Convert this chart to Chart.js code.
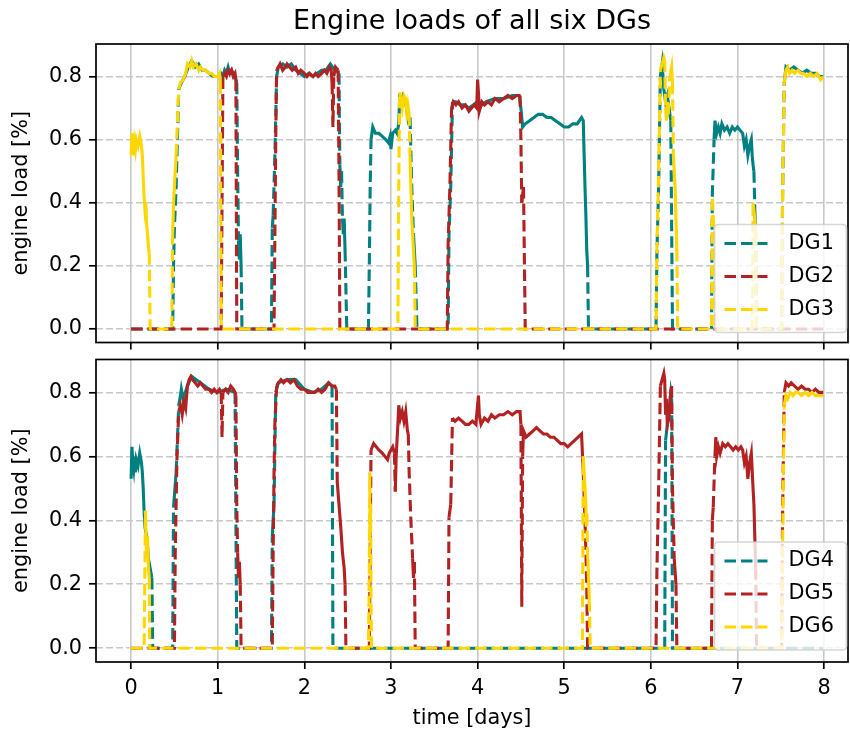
<!DOCTYPE html>
<html>
<head>
<meta charset="utf-8">
<script src="https://cdn.jsdelivr.net/npm/chart.js@4.4.1/dist/chart.umd.min.js"></script>
<style>
  html, body { margin: 0; padding: 0; background: #fff; }
  #wrap { position: relative; width: 850px; height: 738px; }
  canvas { position: absolute; left: 0; }
  #top { top: 0; }
  #bottom { top: 340px; }
</style>
</head>
<body>
<div id="wrap">
  <canvas id="top" width="850" height="362"></canvas>
  <canvas id="bottom" width="850" height="398"></canvas>
</div>
<script>
// axis ticks
const xTickValues = [0, 1, 2, 3, 4, 5, 6, 7, 8];
const yTickValues = [0, 0.2, 0.4, 0.6, 0.8];
const yTickLabels = ["0.0", "0.2", "0.4", "0.6", "0.8"];

// [time in days, engine load]
const dg1 = [[0,0],[0.48,0],[0.49,0.20],[0.50,0.32],[0.52,0.45],[0.55,0.76],[0.58,0.78],[0.62,0.80],[0.66,0.83],[0.70,0.85],[0.74,0.83],[0.78,0.84],[0.82,0.82],[0.86,0.82],[0.90,0.81],[0.95,0.80],[1.00,0.80],[1.04,0.81],[1.06,0.80],[1.08,0.82],[1.10,0.81],[1.12,0.83],[1.14,0.81],[1.16,0.82],[1.18,0.81],[1.20,0.80],[1.22,0.78],[1.23,0.50],[1.24,0.28],[1.25,0.22],[1.26,0.30],[1.27,0.20],[1.28,0],
  [1.62,0],[1.63,0.32],[1.64,0.36],[1.66,0.55],[1.68,0.80],[1.70,0.83],[1.75,0.84],[1.80,0.83],[1.85,0.84],[1.90,0.82],[1.95,0.81],[2.00,0.80],[2.05,0.81],[2.10,0.80],[2.15,0.81],[2.20,0.82],[2.25,0.82],[2.30,0.84],[2.35,0.82],[2.40,0.81],[2.41,0.52],[2.42,0.45],[2.43,0.50],[2.44,0.35],[2.45,0.30],[2.46,0.35],[2.47,0.25],[2.49,0],
  [2.74,0],[2.75,0.20],[2.76,0.45],[2.77,0.60],[2.79,0.64],[2.82,0.62],[2.86,0.62],[2.90,0.61],[2.94,0.60],[2.97,0.59],[2.99,0.61],[3.00,0.57],[3.02,0.62],[3.05,0.63],[3.07,0.62],[3.09,0.65],[3.10,0.73],[3.12,0.72],[3.14,0.74],[3.16,0.73],[3.18,0.70],[3.20,0.66],[3.22,0.67],[3.24,0.45],[3.26,0.30],[3.28,0.20],[3.30,0],
  [3.66,0],[3.67,0.30],[3.69,0.45],[3.71,0.72],[3.75,0.72],[3.80,0.71],[3.85,0.71],[3.90,0.70],[3.95,0.71],[4.00,0.72],[4.05,0.71],[4.10,0.72],[4.20,0.73],[4.30,0.73],[4.40,0.74],[4.48,0.74],[4.50,0.70],[4.52,0.64],[4.55,0.65],[4.60,0.66],[4.65,0.67],[4.70,0.68],[4.75,0.68],[4.80,0.67],[4.85,0.67],[4.90,0.66],[4.95,0.65],[5.00,0.64],[5.05,0.64],[5.10,0.65],[5.15,0.65],[5.20,0.67],[5.22,0.66],[5.23,0.55],[5.24,0.45],[5.25,0.36],[5.26,0.25],[5.27,0.20],[5.28,0],
  [6.06,0],[6.07,0.24],[6.09,0.45],[6.11,0.80],[6.13,0.84],[6.15,0.76],[6.17,0.72],[6.19,0.74],[6.21,0.70],[6.23,0.66],[6.25,0],
  [6.70,0],[6.71,0.43],[6.73,0.60],[6.74,0.66],[6.76,0.62],[6.78,0.64],[6.80,0.62],[6.82,0.65],[6.85,0.63],[6.88,0.64],[6.91,0.62],[6.94,0.64],[6.97,0.63],[7.00,0.64],[7.03,0.63],[7.06,0.62],[7.08,0.58],[7.10,0.60],[7.12,0.55],[7.14,0.58],[7.16,0.60],[7.17,0.55],[7.18,0.52],[7.19,0.50],[7.20,0.38],[7.21,0.30],[7.22,0],
  [7.51,0],[7.52,0.40],[7.54,0.78],[7.56,0.83],[7.60,0.82],[7.65,0.83],[7.70,0.82],[7.75,0.81],[7.80,0.82],[7.85,0.81],[7.90,0.81],[7.95,0.80],[7.99,0.80]];

const dg2 = [[0,0],[1.04,0],[1.05,0.40],[1.06,0.80],[1.08,0.81],[1.10,0.80],[1.12,0.82],[1.14,0.81],[1.16,0.82],[1.18,0.80],[1.20,0.81],[1.21,0.79],[1.22,0],
  [1.65,0],[1.66,0.30],[1.67,0.60],[1.68,0.82],[1.70,0.83],[1.72,0.84],[1.75,0.82],[1.78,0.83],[1.80,0.84],[1.83,0.83],[1.86,0.82],[1.90,0.83],[1.93,0.81],[1.96,0.82],[2.00,0.81],[2.03,0.80],[2.06,0.81],[2.10,0.80],[2.13,0.81],[2.16,0.80],[2.20,0.81],[2.23,0.82],[2.26,0.81],[2.29,0.83],[2.31,0.82],[2.32,0.78],[2.33,0.64],[2.34,0.80],[2.36,0.83],[2.39,0.82],[2.40,0.50],[2.41,0],
  [3.65,0],[3.66,0.27],[3.68,0.45],[3.70,0.70],[3.72,0.72],[3.75,0.71],[3.78,0.72],[3.82,0.70],[3.86,0.71],[3.90,0.69],[3.93,0.70],[3.96,0.71],[3.99,0.70],[4.00,0.79],[4.01,0.75],[4.02,0.69],[4.05,0.72],[4.08,0.71],[4.12,0.72],[4.16,0.71],[4.20,0.73],[4.25,0.72],[4.30,0.73],[4.35,0.74],[4.40,0.73],[4.45,0.74],[4.49,0.74],[4.50,0.60],[4.51,0.40],[4.53,0.45],[4.55,0],
  [7.99,0]];

const dg3 = [[0,0.55],[0.01,0.62],[0.02,0.58],[0.03,0.55],[0.04,0.59],[0.05,0.57],[0.06,0.60],[0.08,0.58],[0.10,0.61],[0.12,0.58],[0.13,0.55],[0.14,0.48],[0.15,0.42],[0.16,0.38],[0.17,0.40],[0.18,0.33],[0.19,0.30],[0.20,0.26],[0.21,0.24],[0.22,0],
  [0.47,0],[0.48,0.30],[0.49,0.40],[0.50,0.45],[0.52,0.55],[0.55,0.76],[0.57,0.78],[0.60,0.79],[0.63,0.81],[0.65,0.84],[0.68,0.83],[0.70,0.85],[0.72,0.83],[0.75,0.84],[0.78,0.82],[0.80,0.83],[0.83,0.82],[0.86,0.82],[0.90,0.81],[0.93,0.81],[0.96,0.80],[1.00,0.80],[1.02,0.81],[1.03,0.78],[1.04,0],
  [3.08,0],[3.09,0.45],[3.10,0.75],[3.12,0.72],[3.13,0.70],[3.15,0.74],[3.17,0.73],[3.19,0.66],[3.20,0.70],[3.21,0.68],[3.22,0.55],[3.23,0.45],[3.24,0.35],[3.25,0.30],[3.26,0.25],[3.27,0.20],[3.28,0],
  [6.06,0],[6.07,0.25],[6.09,0.50],[6.11,0.82],[6.13,0.84],[6.15,0.86],[6.16,0.85],[6.17,0.70],[6.18,0.66],[6.19,0.72],[6.20,0.68],[6.22,0.80],[6.24,0.83],[6.25,0.78],[6.26,0.55],[6.28,0.45],[6.29,0.35],[6.30,0.25],[6.31,0],
  [6.70,0],[6.71,0.42],[6.73,0.30],[6.74,0],
  [7.17,0],[7.18,0.40],[7.20,0.35],[7.21,0.30],[7.22,0],
  [7.51,0],[7.52,0.40],[7.54,0.78],[7.56,0.82],[7.58,0.83],[7.60,0.81],[7.63,0.82],[7.66,0.81],[7.70,0.82],[7.73,0.81],[7.76,0.81],[7.80,0.80],[7.84,0.81],[7.88,0.80],[7.92,0.81],[7.96,0.79],[7.99,0.80]];

const dg4 = [[0,0.53],[0.01,0.63],[0.02,0.58],[0.03,0.56],[0.04,0.60],[0.05,0.55],[0.06,0.59],[0.08,0.57],[0.10,0.61],[0.12,0.58],[0.13,0.55],[0.14,0.50],[0.15,0.43],[0.16,0.38],[0.18,0.35],[0.20,0.28],[0.22,0.25],[0.24,0.22],[0.25,0],
  [0.48,0],[0.49,0.44],[0.52,0.55],[0.55,0.76],[0.57,0.79],[0.58,0.81],[0.60,0.78],[0.65,0.82],[0.70,0.85],[0.80,0.83],[0.90,0.81],[1.00,0.80],[1.10,0.81],[1.20,0.80],[1.22,0],
  [1.62,0],[1.63,0.35],[1.65,0.45],[1.67,0.80],[1.70,0.83],[1.80,0.84],[1.90,0.84],[2.00,0.81],[2.10,0.80],[2.20,0.81],[2.28,0.83],[2.32,0.82],[2.33,0],
  [6.16,0],[6.17,0.65],[6.20,0.72],[6.23,0.80],[6.24,0.78],[6.25,0],
  [7.99,0]];

const dg5 = [[0,0],[0.50,0],[0.51,0.30],[0.53,0.60],[0.55,0.74],[0.57,0.76],[0.59,0.73],[0.61,0.77],[0.63,0.75],[0.65,0.82],[0.67,0.84],[0.69,0.85],[0.71,0.84],[0.74,0.83],[0.77,0.82],[0.80,0.83],[0.83,0.82],[0.86,0.81],[0.90,0.81],[0.93,0.80],[0.96,0.81],[0.99,0.80],[1.02,0.81],[1.04,0.80],[1.05,0.66],[1.06,0.80],[1.09,0.81],[1.12,0.80],[1.15,0.82],[1.18,0.81],[1.20,0.80],[1.21,0.79],[1.22,0.45],[1.23,0.30],[1.24,0.22],[1.25,0.27],[1.26,0.20],[1.27,0],
  [1.63,0],[1.64,0.30],[1.65,0.55],[1.66,0.70],[1.68,0.82],[1.70,0.83],[1.73,0.84],[1.76,0.83],[1.80,0.84],[1.84,0.83],[1.88,0.84],[1.92,0.82],[1.96,0.81],[2.00,0.81],[2.04,0.80],[2.08,0.80],[2.12,0.80],[2.16,0.81],[2.20,0.80],[2.24,0.81],[2.28,0.83],[2.32,0.82],[2.35,0.82],[2.37,0.81],[2.38,0.52],[2.40,0.45],[2.42,0.38],[2.44,0.30],[2.46,0.25],[2.47,0.20],[2.48,0],
  [2.75,0],[2.76,0.30],[2.77,0.62],[2.80,0.64],[2.83,0.63],[2.86,0.62],[2.90,0.61],[2.93,0.60],[2.96,0.59],[2.98,0.61],[3.00,0.62],[3.02,0.63],[3.04,0.61],[3.05,0.49],[3.06,0.60],[3.08,0.70],[3.09,0.76],[3.11,0.72],[3.13,0.74],[3.15,0.71],[3.17,0.74],[3.19,0.68],[3.20,0.67],[3.21,0.55],[3.23,0.40],[3.25,0.28],[3.26,0.22],[3.27,0.27],[3.28,0],
  [3.66,0],[3.67,0.41],[3.69,0.45],[3.71,0.72],[3.74,0.71],[3.78,0.72],[3.82,0.71],[3.86,0.70],[3.90,0.70],[3.94,0.71],[3.98,0.70],[4.01,0.79],[4.02,0.73],[4.04,0.70],[4.08,0.72],[4.12,0.71],[4.16,0.73],[4.20,0.72],[4.25,0.73],[4.30,0.73],[4.35,0.74],[4.40,0.73],[4.45,0.74],[4.49,0.74],[4.50,0.70],[4.51,0.13],[4.52,0.60],[4.53,0.68],[4.56,0.66],[4.60,0.67],[4.64,0.68],[4.68,0.69],[4.72,0.68],[4.76,0.67],[4.80,0.67],[4.84,0.66],[4.88,0.66],[4.92,0.65],[4.96,0.64],[5.00,0.64],[5.04,0.63],[5.08,0.64],[5.12,0.65],[5.16,0.66],[5.20,0.67],[5.21,0.61],[5.22,0.55],[5.24,0.40],[5.26,0.20],[5.27,0],
  [6.06,0],[6.07,0.24],[6.09,0.50],[6.11,0.82],[6.13,0.84],[6.15,0.86],[6.16,0.84],[6.17,0.73],[6.18,0.78],[6.19,0.70],[6.21,0.72],[6.23,0.80],[6.24,0.82],[6.25,0.50],[6.27,0.28],[6.29,0.20],[6.30,0],
  [6.70,0],[6.71,0.40],[6.72,0.44],[6.74,0.60],[6.75,0.66],[6.76,0.60],[6.78,0.63],[6.80,0.61],[6.83,0.64],[6.86,0.63],[6.89,0.64],[6.92,0.63],[6.95,0.62],[6.98,0.63],[7.01,0.62],[7.04,0.63],[7.06,0.62],[7.08,0.58],[7.10,0.60],[7.12,0.53],[7.14,0.58],[7.16,0.61],[7.18,0.50],[7.19,0.45],[7.20,0.35],[7.21,0.25],[7.22,0],
  [7.51,0],[7.52,0.40],[7.54,0.80],[7.56,0.83],[7.59,0.82],[7.62,0.83],[7.66,0.82],[7.70,0.81],[7.74,0.82],[7.78,0.81],[7.82,0.81],[7.86,0.80],[7.90,0.81],[7.94,0.80],[7.99,0.80]];

const dg6 = [[0,0],[0.15,0],[0.16,0.25],[0.165,0.43],[0.17,0.38],[0.18,0.30],[0.19,0.35],[0.20,0.25],[0.21,0.22],[0.215,0],
  [2.74,0],[2.75,0.25],[2.755,0.55],[2.76,0.35],[2.765,0.45],[2.77,0.15],[2.775,0],
  [5.21,0],[5.22,0.60],[5.23,0.55],[5.24,0.50],[5.25,0.45],[5.255,0.38],[5.26,0.42],[5.27,0.30],[5.28,0.22],[5.29,0.15],[5.30,0],
  [7.51,0],[7.52,0.30],[7.54,0.76],[7.56,0.79],[7.58,0.78],[7.61,0.80],[7.64,0.79],[7.67,0.80],[7.70,0.80],[7.74,0.79],[7.78,0.80],[7.82,0.79],[7.86,0.80],[7.90,0.79],[7.95,0.79],[7.99,0.79]];

const topNames = ["DG1", "DG2", "DG3"];
const bottomNames = ["DG4", "DG5", "DG6"];
const colors = ["#008080", "#b22222", "#ffd700"];

const FONT = "DejaVu Sans";
const lineDash = [11.5, 5];

// noisy plateaus look solid in the original, jumps and zero stretches dashed
const dashRule = (ctx) => {
  const a = ctx.p0.parsed.y, b = ctx.p1.parsed.y;
  return (a > 0.05 && b > 0.05 && Math.abs(a - b) < 0.12) ? [] : undefined;
};

const frame = {
  id: "frame",
  afterDatasetsDraw(chart) {
    const { ctx, chartArea: a } = chart;
    ctx.save();
    ctx.setLineDash([]);
    ctx.strokeStyle = "#000";
    ctx.lineWidth = 1.7;
    ctx.strokeRect(a.left, a.top, a.right - a.left, a.bottom - a.top);
    ctx.restore();
  },
};

const boxLegend = {
  id: "boxLegend",
  afterDraw(chart, args, opts) {
    const { ctx, chartArea: a } = chart;
    const w = 132, h = 108;
    const x = a.right - 1.5 - w;
    const y = a.bottom - opts.gap - h;
    ctx.save();
    ctx.beginPath();
    ctx.roundRect(x, y, w, h, 4);
    ctx.fillStyle = "rgba(255,255,255,0.8)";
    ctx.fill();
    ctx.strokeStyle = "rgba(204,204,204,0.8)";
    ctx.lineWidth = 1.7;
    ctx.stroke();
    chart.data.datasets.forEach((ds, i) => {
      const cy = y + 19 + i * 33;
      ctx.beginPath();
      ctx.setLineDash(lineDash);
      ctx.strokeStyle = ds.borderColor;
      ctx.lineWidth = 3.1;
      ctx.moveTo(x + 10, cy);
      ctx.lineTo(x + 53, cy);
      ctx.stroke();
      ctx.setLineDash([]);
      ctx.fillStyle = "#000";
      ctx.font = `20.8px "${FONT}"`;
      ctx.textBaseline = "middle";
      ctx.textAlign = "left";
      ctx.fillText(ds.label, x + 74, cy);
    });
    ctx.restore();
  },
};

function makePanel(canvasId, series, names, cfg) {
  const font = { family: FONT, size: 20.8 };
  return new Chart(document.getElementById(canvasId), {
    type: "line",
    data: {
      datasets: series.map((s, i) => ({
        label: names[i],
        data: s.map((p) => ({ x: p[0], y: p[1] })),
        borderColor: colors[i],
        borderWidth: 3.1,
        borderDash: lineDash,
        pointRadius: 0,
        tension: 0,
        fill: false,
        order: 3 - i,
        segment: { borderDash: dashRule },
      })),
    },
    options: {
      responsive: false,
      animation: false,
      devicePixelRatio: 1,
      layout: { padding: { top: cfg.padTop, right: 2, left: 0, bottom: 0 } },
      scales: {
        x: {
          type: "linear",
          min: -0.405,
          max: 8.276,
          afterBuildTicks: (s) => { s.ticks = xTickValues.map((v) => ({ value: v })); },
          afterFit: (s) => { s.height = cfg.xHeight; },
          ticks: { display: cfg.showX, font, color: "#000", padding: 7, maxRotation: 0 },
          grid: { color: "#c8c8c8", lineWidth: 1.6, tickLength: 7, tickWidth: 1.7, tickColor: "#000", tickBorderDash: [] },
          border: { display: false },
          title: { display: cfg.showX, text: "time [days]", font, color: "#000", padding: { top: 0, bottom: 6.5 } },
        },
        y: {
          min: -0.043,
          max: 0.903,
          afterBuildTicks: (s) => { s.ticks = yTickValues.map((v) => ({ value: v })); },
          afterFit: (s) => { s.width = 96; },
          ticks: { font, color: "#000", padding: 7, callback: (v, i) => yTickLabels[i] },
          grid: { color: "#c8c8c8", lineWidth: 1.6, tickLength: 7, tickWidth: 1.7, tickColor: "#000", tickBorderDash: [] },
          border: { display: false, dash: [7, 3] },
          title: { display: true, text: "engine load [%]", font, color: "#000", padding: { top: 9.5, bottom: 0 } },
        },
      },
      plugins: {
        legend: { display: false },
        tooltip: { enabled: false },
        title: {
          display: cfg.title !== "",
          text: cfg.title,
          fullSize: false,
          font: { family: FONT, size: 27, weight: "normal" },
          color: "#000",
          padding: { top: 6, bottom: 5.6 },
        },
        boxLegend: { gap: cfg.legendGap },
      },
    },
    plugins: [frame, boxLegend],
  });
}

makePanel("top", [dg1, dg2, dg3], topNames, {
  title: "Engine loads of all six DGs", padTop: 0, xHeight: 12, showX: false, legendGap: 10,
});
makePanel("bottom", [dg4, dg5, dg6], bottomNames, {
  title: "", padTop: 16, xHeight: 76, showX: true, legendGap: 12,
});
</script>
</body>
</html>
